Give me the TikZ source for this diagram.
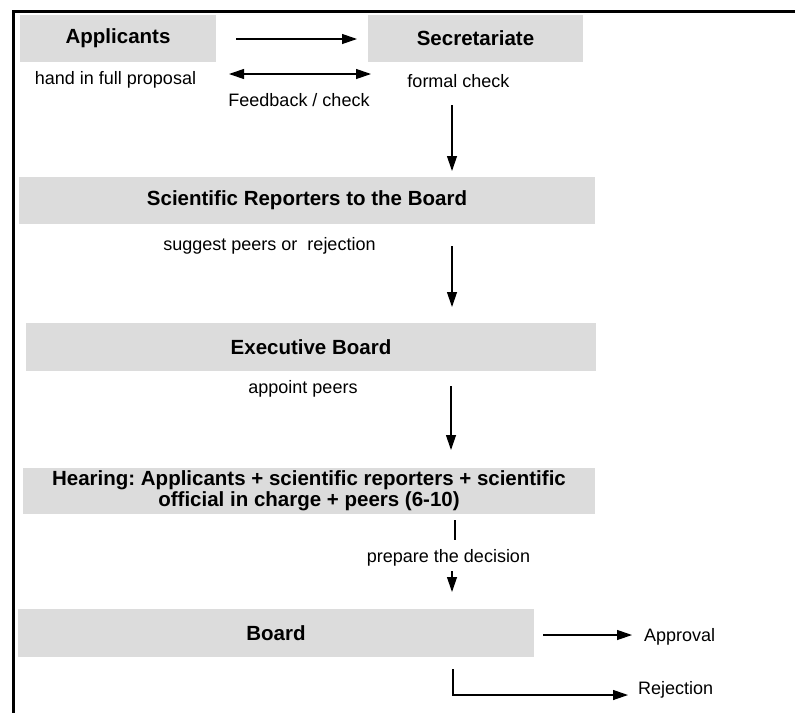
\documentclass[tikz,border=0pt]{standalone}
\usepackage{fontspec}
\setmainfont{Liberation Sans}
\usetikzlibrary{arrows.meta}
\definecolor{boxgray}{HTML}{DCDCDC}
\frenchspacing
\begin{document}
\begin{tikzpicture}[x=1pt,y=-1pt,
  stage/.style={fill=boxgray, inner sep=0pt, align=center,
    font=\bfseries\fontsize{20.5}{21}\selectfont},
  note/.style={inner sep=0pt, font=\fontsize{18}{20}\selectfont},
  flow/.style={line width=1.2pt, -{Triangle[length=15pt,width=10pt]}},
  both/.style={line width=1.2pt, {Triangle[length=15pt,width=10pt]}-{Triangle[length=15pt,width=10pt]}},
  plain/.style={line width=1.2pt}]
\useasboundingbox (0,0) rectangle (795,713);

% frame along the top and left edges
\draw[line width=3pt] (795,11) -- (13.5,11) -- (13.5,713);

% stages
\node[stage, minimum width=196pt, minimum height=47pt] (app) at (118,38.5) {Applicants};
\node[stage, minimum width=215pt, minimum height=47pt] (sec) at (475.5,38.5) {Secretariate};
\node[stage, minimum width=576pt, minimum height=47pt] (sci) at (307,200.5) {Scientific Reporters to the Board};
\node[stage, minimum width=570pt, minimum height=48pt] (exe) at (311,347) {Executive Board};
\node[stage, minimum width=572pt, minimum height=46pt] (hear) at (309,491)
  {Hearing: Applicants + scientific reporters + scientific\\official in charge + peers (6-10)};
\node[stage, minimum width=516pt, minimum height=48pt] (board) at (276,633) {Board};

% notes
\node[note] (handin) at (115.5,80) {hand in full proposal};
\node[note] (feedback) at (299,100) {Feedback / check};
\node[note] (formal) at (458.5,81) {formal check};
\node[note] (suggest) at (269.5,246) {suggest peers or\ \ rejection};
\node[note] (appoint) at (303,389) {appoint peers};
\node[note] (prepare) at (448.5,558) {prepare the decision};
\node[note, anchor=west] (approval) at (644,637) {Approval};
\node[note, anchor=west] (rejection) at (638,690) {Rejection};

% connector end points
\coordinate (a1) at (236,39);  \coordinate (a2) at (357,39);
\coordinate (f1) at (229,74);  \coordinate (f2) at (371,74);
\coordinate (s1) at (452,105); \coordinate (s2) at (452,171);
\coordinate (r1) at (452,246); \coordinate (r2) at (452,307);
\coordinate (e1) at (451,386); \coordinate (e2) at (451,450);
\coordinate (h1) at (455,520); \coordinate (h2) at (455,540);
\coordinate (p1) at (452,571); \coordinate (p2) at (452,592);
\coordinate (b1) at (543,635); \coordinate (b2) at (632,635);
\coordinate (j1) at (453,669); \coordinate (j2) at (453,695); \coordinate (j3) at (628,695);

% connectors
\draw[flow] (a1) -- (a2);
\draw[both] (f1) -- (f2);
\draw[flow] (s1) -- (s2);
\draw[flow] (r1) -- (r2);
\draw[flow] (e1) -- (e2);
\draw[plain] (h1) -- (h2);
\draw[flow] (p1) -- (p2);
\draw[flow] (b1) -- (b2);
\draw[flow] (j1) -- (j2) -- (j3);
\end{tikzpicture}
\end{document}
